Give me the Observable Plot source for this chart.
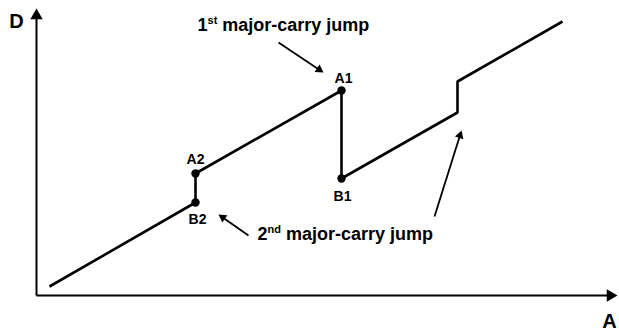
<!DOCTYPE html>
<html><head><meta charset="utf-8">
<script src="https://cdn.jsdelivr.net/npm/d3@7"></script>
<script src="https://cdn.jsdelivr.net/npm/@observablehq/plot@0.6"></script>
<style>body{margin:0;background:#fff} svg{display:block}</style>
</head><body><div id="chart"></div>
<script>
// Units: schematic, measured from the axes origin
const pathA = [13, 159, 159, 305, 305, 421, 421, 526];
const pathD = [9, 93, 122, 205, 117, 183, 214, 274];

const pointNames = ["A1", "B1", "A2", "B2"];
const pointA = [305, 305, 159, 159];
const pointD = [205, 117, 122, 93];
const labelA = [307, 306, 159, 161];
const labelD = [213, 95, 132, 72];

const jumpPre = ["1", "2"];
const jumpSup = ["st", "nd"];
const jumpPost = [" major-carry jump", " major-carry jump"];
const jumpA = [161, 221];
const jumpD = [265, 56];

// annotation arrows: start -> tip
const arrowA1 = [242, 212, 398];
const arrowD1 = [253, 60, 79];
const arrowA2 = [287, 182, 425];
const arrowD2 = [223, 81, 165];

// axes: start -> tip
const axisA1 = [0, 0];
const axisD1 = [0, 0];
const axisA2 = [581, 0];
const axisD2 = [0, 287];
const axisNames = ["A", "D"];
const axisLabelA = [573, -20];
const axisLabelD = [-32, 268];

const path = pathA.map((a, i) => ({a, d: pathD[i]}));
const points = pointNames.map((n, i) => ({n, a: pointA[i], d: pointD[i], la: labelA[i], ld: labelD[i]}));
const jumps = jumpPre.map((p, i) => ({pre: p, sup: jumpSup[i], post: jumpPost[i], a: jumpA[i], d: jumpD[i]}));

function arrows(a1, d1, a2, d2, r) {
  return a1.map((_, i) => {
    const dx = a2[i] - a1[i], dy = d2[i] - d1[i];
    const L = Math.hypot(dx, dy);
    const k = 1.555 * r / L;
    return {x1: a1[i], y1: d1[i], x2: a2[i], y2: d2[i],
      cx: a2[i] - dx * k, cy: d2[i] - dy * k,
      rot: Math.atan2(dx, dy) * 180 / Math.PI};
  });
}
const annArrows = arrows(arrowA1, arrowD1, arrowA2, arrowD2, 3.3);
const axArrows = arrows(axisA1, axisD1, axisA2, axisD2, 4.6);
const axLabels = axisNames.map((n, i) => ({n, a: axisLabelA[i], d: axisLabelD[i]}));

const font = "'Liberation Sans', Arial, Helvetica, sans-serif";

const svg = Plot.plot({
  width: 619,
  height: 332,
  marginLeft: 36, marginRight: 0, marginTop: 0, marginBottom: 37,
  x: {domain: [0, 583], range: [36, 619], axis: null},
  y: {domain: [0, 295], range: [295, 0], axis: null},
  style: {fontFamily: font, background: "#fff"},
  marks: [
    // axes
    Plot.link(axArrows, {x1: "x1", y1: "y1", x2: "cx", y2: "cy", stroke: "black", strokeWidth: 2}),
    Plot.dot(axArrows, {x: "cx", y: "cy", symbol: "triangle", r: 4.6, fill: "black", stroke: "none", rotate: "rot"}),
    Plot.text(axLabels, {x: "a", y: "d", text: "n", fontSize: 20, fontWeight: "bold", lineAnchor: "bottom", textAnchor: "middle", fill: "black", fontFamily: font}),
    // main curve
    Plot.line(path, {x: "a", y: "d", stroke: "black", strokeWidth: 2.6, strokeLinejoin: "miter", strokeLinecap: "butt"}),
    Plot.dot(points, {x: "a", y: "d", r: 4.2, fill: "black", stroke: "none"}),
    Plot.text(points, {x: "la", y: "ld", text: "n", fontSize: 14, fontWeight: "bold", lineAnchor: "bottom", textAnchor: "middle", fill: "black", fontFamily: font}),
    // annotation arrows
    Plot.link(annArrows, {x1: "x1", y1: "y1", x2: "cx", y2: "cy", stroke: "black", strokeWidth: 1.8}),
    Plot.dot(annArrows, {x: "cx", y: "cy", symbol: "triangle", r: 3.3, fill: "black", stroke: "none", rotate: "rot"}),
    Plot.text(jumps, {x: "a", y: "d", text: d => d.pre + d.sup + d.post, fontSize: 18, fontWeight: "bold", lineAnchor: "bottom", textAnchor: "start", fill: "black", fontFamily: font})
  ]
});

// superscripts for the ordinal suffixes
const ns = "http://www.w3.org/2000/svg";
svg.querySelectorAll("text").forEach(t => {
  const j = jumps.find(j => t.textContent === j.pre + j.sup + j.post);
  if (!j) return;
  while (t.firstChild) t.removeChild(t.firstChild);
  const s1 = document.createElementNS(ns, "tspan"); s1.textContent = j.pre;
  const s2 = document.createElementNS(ns, "tspan"); s2.textContent = j.sup;
  s2.setAttribute("font-size", "11"); s2.setAttribute("dy", "-7");
  const s3 = document.createElementNS(ns, "tspan"); s3.textContent = j.post;
  s3.setAttribute("dy", "7");
  t.append(s1, s2, s3);
});

document.getElementById("chart").append(svg);
</script>
</body></html>
